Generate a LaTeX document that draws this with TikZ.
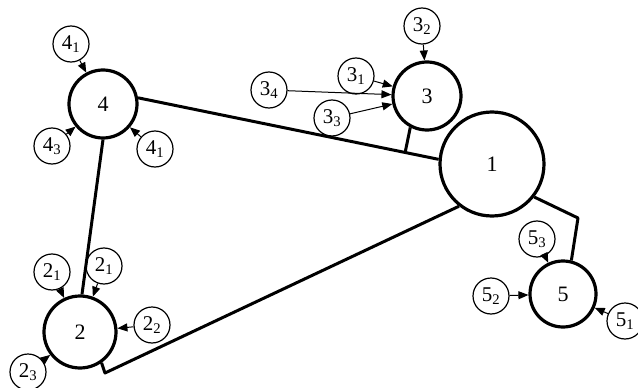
\documentclass[tikz,border=0pt]{standalone}
\usepackage{fontspec}
\setmainfont{Liberation Serif}
\usetikzlibrary{arrows.meta,calc}
\begin{document}
\begin{tikzpicture}[x=1pt,y=-1pt,
  mainnode/.style={circle,draw,line width=3.2pt,inner sep=0pt,font=\fontsize{22}{22}\selectfont},
  satnode/.style={circle,draw,line width=1.2pt,minimum size=36pt,inner sep=0pt,font=\fontsize{21}{21}\selectfont},
  link/.style={line width=3pt,line join=round},
  feed/.style={line width=1pt,-{Triangle[length=10pt,width=8pt]}}]
\useasboundingbox (0,0) rectangle (638,388);
\fill[white] (0,0) rectangle (638,388);
% main nodes
\node[mainnode,minimum size=68pt] (n4) at (103,104) {\raisebox{-10pt}{4}};
\node[mainnode,minimum size=68pt] (n3) at (427,96) {\raisebox{-12pt}{3}};
\node[mainnode,minimum size=104pt] (n1) at (492,164) {\raisebox{-10pt}{1}};
\node[mainnode,minimum size=66pt] (n5) at (563,294) {5};
\node[mainnode,minimum size=72pt] (n2) at (80,332) {\raisebox{-6pt}{2}};
% satellites
\node[satnode] (s4a) at (71,44) {4\textsubscript{1}};
\node[satnode] (s4b) at (52,146) {4\textsubscript{3}};
\node[satnode] (s4c) at (155,149) {4\textsubscript{1}};
\node[satnode] (s3b) at (422,26) {3\textsubscript{2}};
\node[satnode] (s3a) at (356,76) {3\textsubscript{1}};
\node[satnode] (s3d) at (269,90) {3\textsubscript{4}};
\node[satnode] (s3c) at (332,118) {3\textsubscript{3}};
\node[satnode] (s5c) at (537,239) {5\textsubscript{3}};
\node[satnode] (s5b) at (491,296) {5\textsubscript{2}};
\node[satnode] (s5a) at (625,321) {5\textsubscript{1}};
\node[satnode] (s2a) at (52,272) {2\textsubscript{1}};
\node[satnode] (s2b) at (104,266) {2\textsubscript{1}};
\node[satnode] (s2c) at (152,325) {2\textsubscript{2}};
\node[satnode] (s2d) at (28,372) {2\textsubscript{3}};
% links
\draw[link] (n4.10) -- (n1.175);
\coordinate (j3) at ($(n4.10)!(n3.-118)!(n1.175)$);
\draw[link] (n3.-118) -- (j3);
\draw[link] (n4.south) -- (n2.87);
\coordinate (k2) at (105,373);
\draw[link] (n2.-55) -- (k2) -- (n1.-128);
\coordinate (k5) at (578,218);
\draw[link] (n1.-38) -- (k5) -- (n5.76);
% feeds
\foreach \s/\t in {s4a/n4,s4b/n4,s4c/n4,s3b/n3,s3a/n3,s3d/n3,s3c/n3,s5c/n5,s5b/n5,s5a/n5,s2a/n2,s2b/n2,s2c/n2,s2d/n2}
  \draw[feed] (\s) -- (\t);
\end{tikzpicture}
\end{document}
